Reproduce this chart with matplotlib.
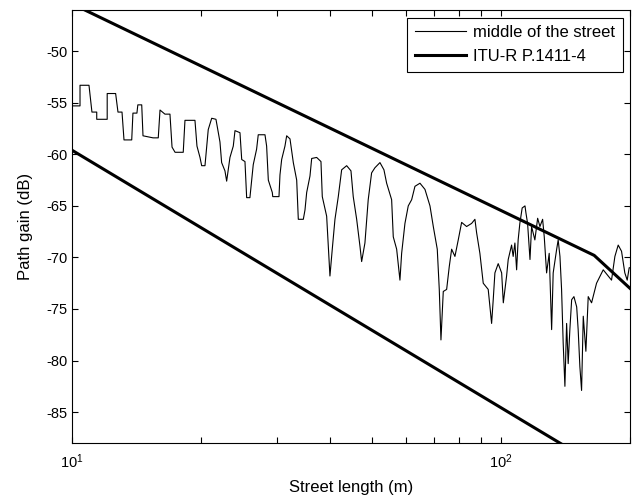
import matplotlib
matplotlib.use("Agg")
import matplotlib.pyplot as plt
import numpy as np

street_m = [10.04, 10.44, 10.44, 10.955, 11.13, 11.42, 11.42, 12.08, 12.08, 12.64,
            12.80, 13.08, 13.22, 13.78, 13.87, 14.17, 14.24, 14.54, 14.64, 15.45,
            15.89, 16.04, 16.47, 16.92, 17.11, 17.39, 18.17, 18.34, 19.35, 19.56,
            19.88, 20.06, 20.42, 20.64, 20.78, 21.17, 21.66, 22.13, 22.33, 22.73,
            22.94, 23.14, 23.35, 23.77, 23.99, 24.64, 24.87, 25.31, 25.54, 25.99,
            26.46, 26.94, 27.18, 28.18, 28.43, 28.69, 29.31, 29.38, 30.38, 30.54,
            30.82, 31.37, 31.66, 32.23, 32.81, 33.41, 33.70, 34.62, 34.93, 35.25,
            35.88, 36.21, 37.19, 38.06, 38.33, 39.24, 39.94, 40.44, 41.03, 41.77,
            42.53, 43.69, 44.71, 45.26, 46.10, 46.92, 47.35, 48.19, 49.05, 49.95,
            50.85, 52.24, 53.37, 54.15, 55.62, 56.11, 57.14, 58.16, 58.69, 59.74,
            60.81, 61.93, 63.04, 64.76, 66.52, 68.33, 69.56, 71.06, 71.83, 72.48,
            73.39, 74.73, 75.78, 76.76, 78.13, 79.53, 80.99, 83.18, 85.45, 86.98,
            87.77, 89.33, 90.95, 93.41, 95.13, 95.96, 96.83, 98.56, 100.4, 101.3,
            103.1, 104.0, 105.9, 106.8, 107.8, 108.8, 109.7, 110.7, 112.1, 113.8,
            114.4, 115.4, 116.9, 117.9, 120.0, 121.8, 123.3, 125.1, 126.2, 127.8,
            129.6, 131.3, 132.4, 134.9, 136.0, 137.3, 138.5, 139.7, 141.0, 142.3,
            143.5, 144.8, 146.2, 148.0, 150.2, 151.4, 152.8, 154.2, 155.6, 157.8,
            159.8, 162.7, 167.1, 173.2, 177.9, 181.1, 184.4, 187.7, 191.1, 194.5,
            197.0, 199.1, 200.0]
gain_db = [-55.3, -55.3, -53.3, -53.3, -55.9, -55.9, -56.6, -56.6, -54.1, -54.1,
           -55.9, -55.9, -58.6, -58.6, -56.0, -56.0, -55.2, -55.2, -58.2, -58.4,
           -58.4, -55.7, -56.1, -56.1, -59.3, -59.8, -59.8, -56.7, -56.7, -59.2,
           -60.3, -61.1, -61.1, -58.9, -57.6, -56.5, -56.6, -58.8, -60.8, -61.6,
           -62.6, -61.5, -60.3, -59.2, -57.7, -57.9, -60.5, -60.7, -64.2, -64.2,
           -61.0, -59.5, -58.1, -58.1, -59.2, -62.5, -63.7, -64.1, -64.1, -62.0,
           -60.5, -59.2, -58.2, -58.5, -60.8, -62.5, -66.3, -66.3, -65.4, -63.7,
           -62.1, -60.4, -60.3, -60.7, -64.1, -66.0, -71.8, -69.2, -66.3, -64.1,
           -61.5, -61.1, -61.6, -64.1, -66.3, -68.9, -70.4, -68.6, -64.4, -61.8,
           -61.3, -60.8, -61.5, -62.8, -64.4, -68.0, -69.2, -72.2, -69.6, -66.7,
           -65.0, -64.4, -63.1, -62.8, -63.4, -65.0, -67.0, -69.2, -73.1, -78.0,
           -73.3, -73.1, -70.9, -69.2, -69.9, -68.3, -66.6, -67.0, -66.7, -66.3,
           -67.6, -69.6, -72.5, -73.1, -76.4, -74.1, -71.5, -70.6, -71.5, -74.4,
           -71.8, -70.2, -68.8, -69.9, -68.6, -71.2, -68.3, -66.7, -65.2, -65.0,
           -65.7, -66.7, -70.2, -67.0, -68.3, -66.2, -67.0, -66.3, -68.0, -71.5,
           -69.6, -77.0, -71.5, -69.2, -68.3, -69.9, -73.1, -78.3, -82.5, -76.4,
           -80.3, -77.0, -74.1, -73.8, -74.8, -77.0, -80.6, -82.9, -75.7, -79.1,
           -73.8, -74.4, -72.5, -71.2, -71.8, -72.2, -69.9, -68.8, -69.4, -71.5,
           -72.2, -71.0, -71.0]

# ITU-R P.1411-4 bounds (breakpoint near 165 m)
itu_upper_m = [10, 165, 200]
itu_upper_db = [-45.4, -69.8, -73.0]
itu_lower_m = [10, 165]
itu_lower_db = [-59.6, -90.0]

plt.rcParams['font.family'] = ['Liberation Sans', 'DejaVu Sans']
plt.rcParams['mathtext.fontset'] = 'custom'
plt.rcParams['mathtext.rm'] = 'Liberation Sans'
plt.rcParams['axes.unicode_minus'] = False

fig = plt.figure(figsize=(6.36, 4.98), dpi=100)
ax = fig.add_axes([0.1132, 0.1104, 0.8774, 0.8695])

ax.plot(street_m, gain_db, color="black", lw=0.8, label="middle of the street")
ax.plot(itu_upper_m, itu_upper_db, color="black", lw=2.2, label="ITU-R P.1411-4")
ax.plot(itu_lower_m, itu_lower_db, color="black", lw=2.2)

ax.set_xscale("log")
ax.set_xlim(10, 200)
ax.set_ylim(-88, -46)
ax.set_yticks([-85, -80, -75, -70, -65, -60, -55, -50])
ax.tick_params(which="both", direction="in", top=True, right=True, length=4,
               labelsize=10.5, width=0.8)
ax.tick_params(axis="x", pad=7)
for s in ax.spines.values():
    s.set_linewidth(0.8)

ax.set_xlabel("Street length (m)", fontsize=12, labelpad=6)
ax.set_ylabel("Path gain (dB)", fontsize=12, labelpad=9)

leg = ax.legend(loc="upper right", fontsize=12, fancybox=False, framealpha=1,
                edgecolor="black", borderaxespad=0.45, handlelength=3.1,
                handletextpad=0.4, labelspacing=0.55, borderpad=0.45)
leg.get_frame().set_linewidth(0.8)

fig.savefig("out.png", dpi=100)
